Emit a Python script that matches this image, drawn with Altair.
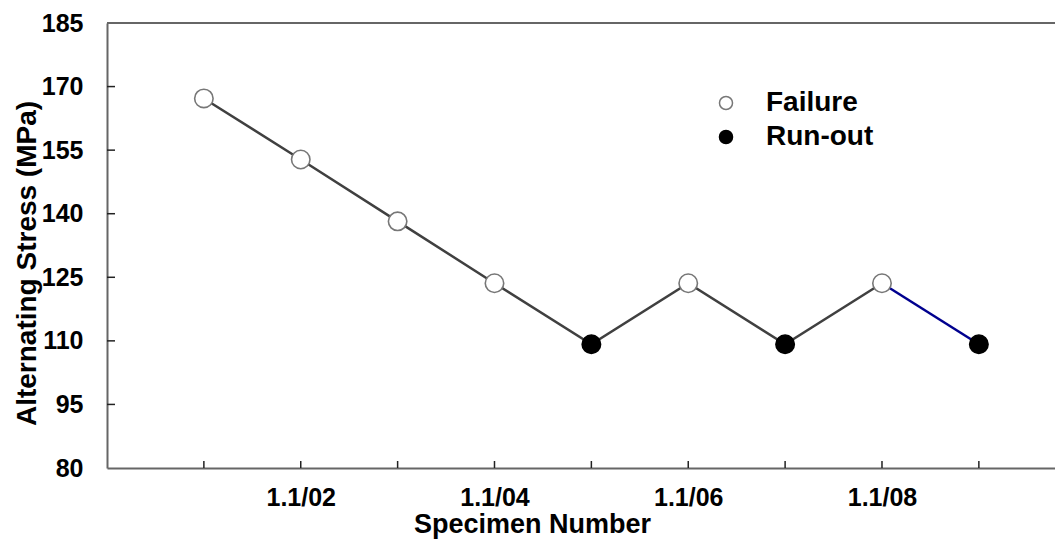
import altair as alt
import pandas as pd

# ---- data ----
specimens = ["1.1/01", "1.1/02", "1.1/03", "1.1/04", "1.1/05",
             "1.1/06", "1.1/07", "1.1/08", "1.1/09"]
stress = [167.2, 152.8, 138.2, 123.6, 109.2, 123.6, 109.2, 123.6, 109.2]
result = ["Failure", "Failure", "Failure", "Failure", "Run-out",
          "Failure", "Run-out", "Failure", "Run-out"]
# line segments: gray for the first eight specimens, blue for the last step
segment_gray = [1, 2, 3, 4, 5, 6, 7, 8]
segment_blue = [8, 9]

y_ticks = [80, 95, 110, 125, 140, 155, 170, 185]
x_label_idx = [2, 4, 6, 8]

FONT = "Liberation Sans"
W, H = 948, 445

idx = list(range(1, len(specimens) + 1))
df = pd.DataFrame({"idx": idx, "specimen": specimens, "stress": stress, "result": result})
df_gray = df[df["idx"].isin(segment_gray)]
df_blue = df[df["idx"].isin(segment_blue)]

label_arr = "[" + ",".join("'%s'" % s for s in specimens) + "]"
label_expr = label_arr + "[datum.value - 1]"

x_scale = alt.Scale(domain=[0, 9.786], nice=False, zero=False)
y_scale = alt.Scale(domain=[80, 185], nice=False, zero=False)

x_axis = alt.Axis(values=x_label_idx, labelExpr=label_expr, ticks=False, tickSize=0,
                  grid=False, domainColor="#666666", domainWidth=2,
                  labelFont=FONT, labelFontSize=25, labelFontWeight="bold", labelColor="#000",
                  labelBaseline="alphabetic", labelPadding=37,
                  title="Specimen Number", titleFont=FONT, titleFontSize=27, titleFontWeight="bold",
                  titleColor="#000", titleX=425, titleY=64, titleBaseline="alphabetic",
                  titleAlign="center")
y_axis = alt.Axis(values=y_ticks, ticks=False, tickSize=0, grid=False,
                  domainColor="#666666", domainWidth=2,
                  labelFont=FONT, labelFontSize=25, labelFontWeight="bold", labelColor="#000",
                  labelPadding=24,
                  title="Alternating Stress (MPa)", titleFont=FONT, titleFontSize=28,
                  titleFontWeight="bold", titleColor="#000", titleX=-72, titleY=240,
                  titleAngle=270, titleAlign="center", titleBaseline="alphabetic")

X = alt.X("idx:Q", scale=x_scale, axis=x_axis)
Y = alt.Y("stress:Q", scale=y_scale, axis=y_axis)

line_gray = alt.Chart(df_gray).mark_line(color="#404040", strokeWidth=2.5).encode(x=X, y=Y)
line_blue = alt.Chart(df_blue).mark_line(color="#00008f", strokeWidth=2.5).encode(x=X, y=Y)

points = alt.Chart(df).mark_point(filled=False, size=340, strokeWidth=1.6, opacity=1, shape="circle").encode(
    x=X, y=Y,
    fill=alt.Fill("result:N", scale=alt.Scale(domain=["Failure", "Run-out"], range=["#ffffff", "#000000"]),
                  legend=alt.Legend(title=None, orient="none", legendX=605, legendY=66,
                                    symbolType="circle", symbolSize=170, symbolStrokeColor="#777777",
                                    symbolStrokeWidth=1.5,
                                    labelFont=FONT, labelFontSize=28, labelFontWeight="bold",
                                    labelColor="#000", labelOffset=26, rowPadding=6, padding=0)),
    stroke=alt.Stroke("result:N", scale=alt.Scale(domain=["Failure", "Run-out"], range=["#777777", "#000000"]),
                      legend=None),
)

# inward axis ticks and top frame line
xt = pd.DataFrame({"idx": idx})
yt = pd.DataFrame({"stress": y_ticks[1:-1]})
x_ticks = alt.Chart(xt).mark_rule(color="#222222", strokeWidth=1.5).encode(
    x=alt.X("idx:Q", scale=x_scale), y=alt.value(H), y2=alt.value(H - 7))
y_ticks_m = alt.Chart(yt).mark_rule(color="#222222", strokeWidth=1.5).encode(
    y=alt.Y("stress:Q", scale=y_scale), x=alt.value(0), x2=alt.value(8))
top_line = alt.Chart(pd.DataFrame({"y": [185]})).mark_rule(color="#666666", strokeWidth=2).encode(
    y=alt.Y("y:Q", scale=y_scale), x=alt.value(0), x2=alt.value(W))

chart = alt.layer(top_line, x_ticks, y_ticks_m, line_gray, line_blue, points).properties(
    width=W, height=H,
    autosize=alt.AutoSizeParams(type="none"),
    padding={"left": 99, "top": 15, "right": 0, "bottom": 72},
    background="white",
).configure_view(stroke=None)

chart.save("out.html", embed_options={"renderer": "svg", "actions": False})
